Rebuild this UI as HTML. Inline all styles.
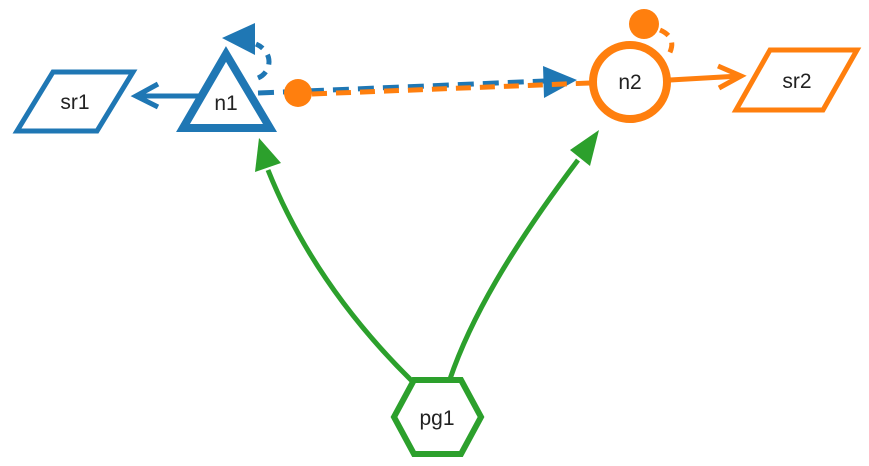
<!DOCTYPE html>
<html><head><meta charset="utf-8"><style>
html,body{margin:0;padding:0;background:#fff;}
svg{display:block;}
text{font-family:"Liberation Sans",sans-serif;font-size:21px;fill:#222;text-anchor:middle;}
</style></head><body>
<svg width="869" height="466" viewBox="0 0 869 466">
<path d="M412,381 C350,320 300,250 268,170" fill="none" stroke="#2ca02c" stroke-width="5"/>
<polygon points="259,138 255,172 281,163" fill="#2ca02c"/>
<path d="M450,379 C470,320 510,250 578,160" fill="none" stroke="#2ca02c" stroke-width="5"/>
<polygon points="599,130 570,150 590,166" fill="#2ca02c"/>
<line x1="200" y1="96" x2="136" y2="96" stroke="#1f77b4" stroke-width="5"/>
<polyline points="158,84 136,96 158,107" fill="none" stroke="#1f77b4" stroke-width="5"/>
<line x1="670" y1="80" x2="740" y2="76" stroke="#ff7f0e" stroke-width="5"/>
<polyline points="718,66 741,76 719,88" fill="none" stroke="#ff7f0e" stroke-width="5"/>
<path d="M258,93 L545,81" fill="none" stroke="#1f77b4" stroke-width="5" stroke-dasharray="16,9"/>
<polygon points="577,80 543,66 544,98" fill="#1f77b4"/>
<path d="M312,94 L590,83" fill="none" stroke="#ff7f0e" stroke-width="5" stroke-dasharray="15,9"/>
<circle cx="298" cy="93" r="14" fill="#ff7f0e"/>
<path d="M258,78 C272,72 274,52 256,44" fill="none" stroke="#1f77b4" stroke-width="5" stroke-dasharray="10,8"/>
<polygon points="222,38 255,23 255,55" fill="#1f77b4"/>
<path d="M660,30 C674,36 674,46 668,56" fill="none" stroke="#ff7f0e" stroke-width="5" stroke-dasharray="10,8"/>
<polygon points="226,54 183,128 270,128" fill="#fff" stroke="#1f77b4" stroke-width="8" stroke-linejoin="miter"/>
<text x="226" y="110">n1</text>
<circle cx="630" cy="82" r="37" fill="#fff" stroke="#ff7f0e" stroke-width="8"/>
<circle cx="644" cy="24" r="15" fill="#ff7f0e"/>
<text x="630" y="89">n2</text>
<polygon points="53,72 133,72 97,131 17,131" fill="#fff" stroke="#1f77b4" stroke-width="5"/>
<text x="75" y="109">sr1</text>
<polygon points="770,50 857,50 823,110 736,110" fill="#fff" stroke="#ff7f0e" stroke-width="5"/>
<text x="797" y="88">sr2</text>
<polygon points="414,380 461,380 481,417 461,454 414,454 394,417" fill="#fff" stroke="#2ca02c" stroke-width="6"/>
<text x="437" y="425">pg1</text>
</svg>
</body></html>
